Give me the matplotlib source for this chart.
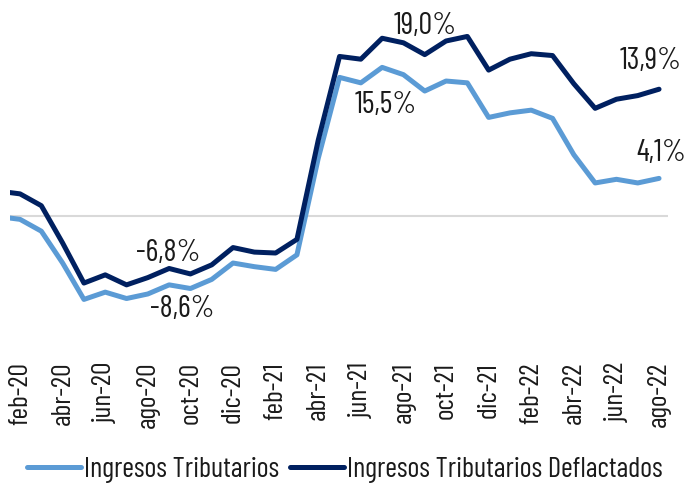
import numpy as np
import matplotlib
matplotlib.use('Agg')
import matplotlib.pyplot as plt

plt.rcParams['font.family'] = ['Barlow Condensed', 'Barlow Semi Condensed', 'Archivo Narrow', 'DejaVu Sans']

# monthly categories (ene-20 sits just outside the left edge)
months = ['ene-20', 'feb-20', 'mar-20', 'abr-20', 'may-20', 'jun-20', 'jul-20', 'ago-20',
          'sep-20', 'oct-20', 'nov-20', 'dic-20', 'ene-21', 'feb-21', 'mar-21', 'abr-21',
          'may-21', 'jun-21', 'jul-21', 'ago-21', 'sep-21', 'oct-21', 'nov-21', 'dic-21',
          'ene-22', 'feb-22', 'mar-22', 'abr-22', 'may-22', 'jun-22', 'jul-22', 'ago-22']

ingresos = [-0.1, -0.4, -1.7, -5.2, -9.2, -8.4, -9.1, -8.6,
            -7.6, -8.0, -7.0, -5.2, -5.6, -5.9, -4.3, 6.3,
            15.2, 14.6, 16.3, 15.5, 13.7, 14.8, 14.6, 10.8,
            11.3, 11.6, 10.7, 6.7, 3.6, 4.0, 3.6, 4.1]

deflactados = [2.7, 2.4, 1.1, -3.0, -7.4, -6.5, -7.6, -6.8,
               -5.8, -6.4, -5.4, -3.5, -4.0, -4.1, -2.6, 8.3,
               17.5, 17.2, 19.5, 19.0, 17.7, 19.2, 19.7, 16.0,
               17.2, 17.8, 17.6, 14.5, 11.8, 12.8, 13.2, 13.9]

# points that carry a value label: (index, series, offset in points)
etiquetas = [(7, 'ing', (24.5, -10.8)), (7, 'def', (14.4, 18)),
             (19, 'ing', (-13, -21.6)), (19, 'def', (15.8, 12.2)),
             (31, 'ing', (1.4, 18)), (31, 'def', (-5.8, 20))]

c_light = '#5B9BD5'
c_dark = '#002060'

fig = plt.figure(figsize=(6.91, 4.83), dpi=100)
ax = fig.add_axes([0.0145, 0.2708, 0.9522, 0.6971])

x = np.arange(len(months))
ax.axhline(0, color='#D9D9D9', lw=1.5, zorder=1)
ax.plot(x, ingresos, color=c_light, lw=3.6, solid_joinstyle='round',
        solid_capstyle='round', label='Ingresos Tributarios', zorder=2)
ax.plot(x, deflactados, color=c_dark, lw=3.6, solid_joinstyle='round',
        solid_capstyle='round', label='Ingresos Tributarios Deflactados', zorder=3)

for i, serie, off in etiquetas:
    v = ingresos[i] if serie == 'ing' else deflactados[i]
    txt = '{:.1f}%'.format(v).replace('.', ',')
    ax.annotate(txt, xy=(i, v), xytext=off, textcoords='offset points',
                ha='center', va='center', fontsize=22, color='#1a1a1a')

ax.set_xlim(0.53, 31.42)
ax.set_ylim(-15, 22)
ax.set_xticks(x[1::2])
ax.set_xticklabels(months[1::2], rotation=90, fontsize=20, color='#1a1a1a')
ax.tick_params(axis='x', length=0, pad=7)
ax.set_yticks([])
for s in ax.spines.values():
    s.set_visible(False)

fig.legend(loc='center', bbox_to_anchor=(0.499, 0.027), ncol=2, frameon=False,
           fontsize=20.5, handlelength=1.9, handletextpad=0.1, columnspacing=0.4,
           labelcolor='#1a1a1a', borderpad=0.2)

fig.savefig('out.png', dpi=100)
